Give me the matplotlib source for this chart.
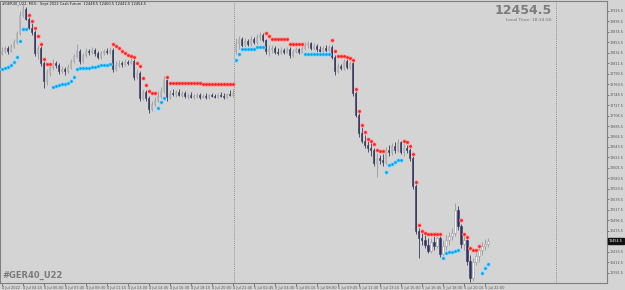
import matplotlib
matplotlib.use("Agg")
import matplotlib.pyplot as plt

# GER40 M15 bars, 4-5 Jul 2022
opens = [12832.5, 12836.5, 12842.5, 12836.5, 12846.5, 12854.5, 12872.5, 12908.5, 12920.5, 12900.5,
         12882.5, 12874.5, 12832.5, 12842.5, 12812.5, 12776.5, 12792.5, 12804.5, 12812.5, 12808.5,
         12796.5, 12800.5, 12796.5, 12804.5, 12816.5, 12826.5, 12836.5, 12816.5, 12828.5, 12836.5,
         12834.5, 12838.5, 12832.5, 12824.5, 12832.5, 12836.5, 12834.5, 12838.5, 12800.5, 12808.5,
         12812.5, 12810.5, 12814.5, 12812.5, 12816.5, 12784.5, 12792.5, 12742.5, 12754.5, 12742.5,
         12720.5, 12730.5, 12738.5, 12746.5, 12756.5, 12778.5, 12744.5, 12752.5, 12750.5, 12754.5,
         12748.5, 12752.5, 12746.5, 12748.5, 12744.5, 12746.5, 12748.5, 12744.5, 12746.5, 12744.5,
         12748.5, 12746.5, 12744.5, 12748.5, 12746.5, 12744.5, 12750.5, 12748.5,
         12836.5, 12852.5, 12860.5, 12848.5, 12856.5, 12850.5, 12860.5, 12854.5, 12864.5, 12868.5,
         12858.5, 12836.5, 12840.5, 12842.5, 12834.5, 12832.5, 12838.5, 12834.5, 12840.5, 12828.5,
         12836.5, 12840.5, 12834.5, 12842.5, 12848.5, 12852.5, 12842.5, 12846.5, 12840.5, 12836.5,
         12842.5, 12838.5, 12844.5, 12824.5, 12796.5, 12806.5, 12802.5, 12816.5, 12804.5, 12812.5,
         12752.5, 12708.5, 12672.5, 12656.5, 12646.5, 12640.5, 12636.5, 12610.5, 12620.5, 12616.5,
         12612.5, 12636.5, 12632.5, 12644.5, 12636.5, 12652.5, 12632.5, 12640.5, 12636.5, 12620.5,
         12564.5, 12474.5, 12460.5, 12456.5, 12446.5, 12434.5, 12452.5, 12444.5, 12460.5, 12428.5,
         12444.5, 12456.5, 12464.5, 12470.5, 12516.5, 12484.5, 12448.5, 12456.5, 12414.5, 12380.5,
         12412.5, 12424.5, 12436.5, 12444.5, 12448.5]
highs = [12844.5, 12846.5, 12846.5, 12850.5, 12860.5, 12876.5, 12916.5, 12930.5, 12924.5, 12904.5,
         12892.5, 12878.5, 12848.5, 12846.5, 12816.5, 12800.5, 12808.5, 12820.5, 12816.5, 12812.5,
         12806.5, 12804.5, 12810.5, 12820.5, 12830.5, 12850.5, 12840.5, 12832.5, 12842.5, 12840.5,
         12844.5, 12842.5, 12836.5, 12836.5, 12840.5, 12842.5, 12844.5, 12842.5, 12816.5, 12818.5,
         12816.5, 12820.5, 12818.5, 12822.5, 12820.5, 12800.5, 12796.5, 12760.5, 12758.5, 12746.5,
         12736.5, 12744.5, 12756.5, 12764.5, 12786.5, 12780.5, 12758.5, 12760.5, 12758.5, 12760.5,
         12756.5, 12756.5, 12752.5, 12754.5, 12750.5, 12752.5, 12752.5, 12750.5, 12752.5, 12750.5,
         12752.5, 12750.5, 12752.5, 12754.5, 12752.5, 12752.5, 12758.5, 12760.5,
         12862.5, 12866.5, 12864.5, 12862.5, 12860.5, 12866.5, 12864.5, 12870.5, 12874.5, 12872.5,
         12860.5, 12848.5, 12848.5, 12846.5, 12842.5, 12844.5, 12842.5, 12844.5, 12844.5, 12840.5,
         12844.5, 12842.5, 12846.5, 12854.5, 12856.5, 12854.5, 12852.5, 12850.5, 12846.5, 12846.5,
         12848.5, 12848.5, 12848.5, 12828.5, 12812.5, 12810.5, 12820.5, 12820.5, 12816.5, 12816.5,
         12756.5, 12712.5, 12684.5, 12668.5, 12656.5, 12654.5, 12640.5, 12630.5, 12626.5, 12628.5,
         12642.5, 12646.5, 12650.5, 12654.5, 12660.5, 12656.5, 12650.5, 12646.5, 12640.5, 12624.5,
         12568.5, 12480.5, 12470.5, 12466.5, 12460.5, 12460.5, 12464.5, 12464.5, 12464.5, 12456.5,
         12466.5, 12472.5, 12480.5, 12530.5, 12524.5, 12488.5, 12464.5, 12460.5, 12426.5, 12420.5,
         12432.5, 12442.5, 12452.5, 12458.5, 12460.5]
lows = [12828.5, 12832.5, 12830.5, 12834.5, 12842.5, 12850.5, 12868.5, 12904.5, 12898.5, 12880.5,
        12868.5, 12826.5, 12820.5, 12806.5, 12762.5, 12768.5, 12786.5, 12798.5, 12802.5, 12790.5,
        12792.5, 12788.5, 12792.5, 12800.5, 12812.5, 12822.5, 12810.5, 12812.5, 12824.5, 12828.5,
        12830.5, 12826.5, 12820.5, 12820.5, 12828.5, 12830.5, 12830.5, 12794.5, 12796.5, 12804.5,
        12804.5, 12806.5, 12808.5, 12810.5, 12778.5, 12780.5, 12736.5, 12738.5, 12736.5, 12712.5,
        12716.5, 12726.5, 12734.5, 12742.5, 12752.5, 12736.5, 12740.5, 12746.5, 12744.5, 12746.5,
        12744.5, 12742.5, 12740.5, 12742.5, 12740.5, 12742.5, 12740.5, 12742.5, 12740.5, 12740.5,
        12744.5, 12742.5, 12742.5, 12744.5, 12740.5, 12742.5, 12746.5, 12744.5,
        12830.5, 12840.5, 12844.5, 12844.5, 12846.5, 12846.5, 12850.5, 12850.5, 12858.5, 12854.5,
        12830.5, 12826.5, 12832.5, 12830.5, 12828.5, 12830.5, 12830.5, 12832.5, 12822.5, 12824.5,
        12832.5, 12830.5, 12832.5, 12838.5, 12842.5, 12838.5, 12838.5, 12834.5, 12832.5, 12832.5,
        12834.5, 12836.5, 12820.5, 12788.5, 12792.5, 12798.5, 12798.5, 12800.5, 12800.5, 12746.5,
        12704.5, 12664.5, 12650.5, 12640.5, 12632.5, 12624.5, 12604.5, 12582.5, 12608.5, 12604.5,
        12608.5, 12624.5, 12626.5, 12630.5, 12632.5, 12628.5, 12624.5, 12630.5, 12614.5, 12558.5,
        12468.5, 12420.5, 12446.5, 12440.5, 12430.5, 12430.5, 12436.5, 12440.5, 12422.5, 12424.5,
        12436.5, 12446.5, 12456.5, 12464.5, 12476.5, 12440.5, 12436.5, 12406.5, 12372.5, 12374.5,
        12406.5, 12412.5, 12426.5, 12436.5, 12442.5]
closes = [12836.5, 12842.5, 12836.5, 12846.5, 12854.5, 12872.5, 12908.5, 12920.5, 12900.5, 12882.5,
          12874.5, 12832.5, 12842.5, 12812.5, 12776.5, 12792.5, 12804.5, 12812.5, 12808.5, 12796.5,
          12800.5, 12796.5, 12804.5, 12816.5, 12826.5, 12836.5, 12816.5, 12828.5, 12836.5, 12834.5,
          12838.5, 12832.5, 12824.5, 12832.5, 12836.5, 12834.5, 12838.5, 12800.5, 12808.5, 12812.5,
          12810.5, 12814.5, 12812.5, 12816.5, 12784.5, 12792.5, 12742.5, 12754.5, 12742.5, 12720.5,
          12730.5, 12738.5, 12746.5, 12756.5, 12778.5, 12744.5, 12752.5, 12750.5, 12754.5, 12748.5,
          12752.5, 12746.5, 12748.5, 12744.5, 12746.5, 12748.5, 12744.5, 12746.5, 12744.5, 12748.5,
          12746.5, 12744.5, 12748.5, 12746.5, 12744.5, 12750.5, 12748.5, 12752.5,
          12852.5, 12860.5, 12848.5, 12856.5, 12850.5, 12860.5, 12854.5, 12864.5, 12868.5, 12858.5,
          12836.5, 12840.5, 12842.5, 12834.5, 12832.5, 12838.5, 12834.5, 12840.5, 12828.5, 12836.5,
          12840.5, 12834.5, 12842.5, 12848.5, 12852.5, 12842.5, 12846.5, 12840.5, 12836.5, 12842.5,
          12838.5, 12844.5, 12824.5, 12796.5, 12806.5, 12802.5, 12816.5, 12804.5, 12812.5, 12752.5,
          12708.5, 12672.5, 12656.5, 12646.5, 12640.5, 12636.5, 12610.5, 12620.5, 12616.5, 12612.5,
          12636.5, 12632.5, 12644.5, 12636.5, 12652.5, 12632.5, 12640.5, 12636.5, 12620.5, 12564.5,
          12474.5, 12460.5, 12456.5, 12446.5, 12434.5, 12452.5, 12444.5, 12460.5, 12428.5, 12444.5,
          12456.5, 12464.5, 12470.5, 12516.5, 12484.5, 12448.5, 12456.5, 12414.5, 12380.5, 12412.5,
          12424.5, 12436.5, 12444.5, 12448.5, 12454.5]
# parabolic SAR dots
sar = [12800.5, 12802.5, 12804.5, 12808.5, 12814.5, 12824.5, 12856.5, 12880.5, 12880.5, 12908.5,
       12896.5, 12882.5, 12866.5, 12850.5, 12820.5, 12810.5, 12810.5, 12764.5, 12766.5, 12768.5,
       12770.5, 12770.5, 12772.5, 12776.5, 12784.5, 12800.5, 12802.5, 12802.5, 12802.5, 12802.5,
       12804.5, 12804.5, 12806.5, 12808.5, 12808.5, 12808.5, 12810.5, 12850.5, 12846.5, 12842.5,
       12836.5, 12832.5, 12828.5, 12826.5, 12824.5, 12812.5, 12806.5, 12782.5, 12768.5, 12756.5,
       12752.5, 12752.5, 12722.5, 12734.5, 12742.5, 12784.5, 12772.5, 12772.5, 12772.5, 12772.5,
       12772.5, 12772.5, 12772.5, 12772.5, 12772.5, 12772.5, 12772.5, 12770.5, 12770.5, 12770.5,
       12770.5, 12770.5, 12770.5, 12770.5, 12770.5, 12770.5, 12770.5, 12770.5,
       12818.5, 12830.5, 12840.5, 12840.5, 12840.5, 12840.5, 12840.5, 12844.5, 12844.5, 12844.5,
       12872.5, 12866.5, 12860.5, 12860.5, 12860.5, 12860.5, 12860.5, 12860.5, 12850.5, 12850.5,
       12850.5, 12850.5, 12850.5, 12830.5, 12830.5, 12830.5, 12830.5, 12830.5, 12830.5, 12830.5,
       12830.5, 12830.5, 12858.5, 12836.5, 12826.5, 12826.5, 12826.5, 12824.5, 12822.5, 12818.5,
       12760.5, 12716.5, 12688.5, 12674.5, 12660.5, 12656.5, 12648.5, 12636.5, 12634.5, 12634.5,
       12592.5, 12606.5, 12608.5, 12612.5, 12616.5, 12616.5, 12656.5, 12652.5, 12644.5, 12628.5,
       12572.5, 12486.5, 12474.5, 12470.5, 12468.5, 12468.5, 12468.5, 12468.5, 12468.5, 12420.5,
       12430.5, 12432.5, 12432.5, 12434.5, 12436.5, 12496.5, 12468.5, 12462.5, 12440.5, 12436.5,
       12436.5, 12444.5, 12390.5, 12400.5, 12408.5]

price_ticks = [12391.5, 12412.5, 12433.5, 12475.5, 12496.5, 12517.5, 12538.5, 12559.5, 12580.5,
               12601.5, 12622.5, 12643.5, 12664.5, 12685.5, 12706.5, 12727.5, 12748.5, 12769.5,
               12790.5, 12811.5, 12832.5, 12853.5, 12874.5, 12895.5, 12916.5]
time_labels = ["4 Jul 2022", "4 Jul 04:15", "4 Jul 06:00", "4 Jul 07:45", "4 Jul 09:30",
               "4 Jul 11:15", "4 Jul 13:00", "4 Jul 14:45", "4 Jul 16:30", "4 Jul 18:15",
               "4 Jul 20:00", "4 Jul 21:45", "5 Jul 02:45", "5 Jul 04:30", "5 Jul 06:15",
               "5 Jul 08:00", "5 Jul 09:45", "5 Jul 11:30", "5 Jul 13:15", "5 Jul 15:00",
               "5 Jul 16:45", "5 Jul 18:30", "5 Jul 20:15", "5 Jul 22:00"]
label_every = 7
day_break = 77.5
last_price = 12454.5

bg = "#d4d4d4"
bull_body = "#f4f4f4"
bull_line = "#9a9a9a"
bear_body = "#2c2c6c"
bear_line = "#3a3a5a"

fig = plt.figure(figsize=(6.25, 2.9), dpi=100, facecolor=bg)
ax = fig.add_axes([0.0, 7 / 290, 607 / 625, 282 / 290])
ax.set_facecolor(bg)

n = len(closes)
xs = list(range(n))
for i in xs:
    up = closes[i] >= opens[i]
    lc = bull_line if up else bear_line
    ax.vlines(i, lows[i], highs[i], color=lc, lw=0.6, zorder=2)
    lo, hi = min(opens[i], closes[i]), max(opens[i], closes[i])
    h = max(hi - lo, 0.8)
    ax.bar(i, h, bottom=lo, width=0.62, color=bull_body if up else bear_body,
           edgecolor=lc, linewidth=0.4, zorder=3)

red_x = [i for i in xs if sar[i] > closes[i]]
blue_x = [i for i in xs if sar[i] <= closes[i]]
ax.plot(red_x, [sar[i] for i in red_x], "o", ms=3.2, color="#ff9a9a", mec="none", zorder=4)
ax.plot(red_x, [sar[i] for i in red_x], "o", ms=2.0, color="#ff2020", mec="none", zorder=5)
ax.plot(blue_x, [sar[i] for i in blue_x], "o", ms=3.2, color="#8fd8ff", mec="none", zorder=4)
ax.plot(blue_x, [sar[i] for i in blue_x], "o", ms=2.0, color="#00a8f0", mec="none", zorder=5)

ax.set_xlim(-0.5, 201.8)
ax.set_ylim(12370.5, 12936.5)

ax.axvline(day_break, color="#7a7a7a", lw=0.6, ls=(0, (1, 1.5)), zorder=1)
ax.axvline(184.8, color="#7a7a7a", lw=0.6, ls=(0, (1, 1.5)), zorder=1)

for s in ax.spines.values():
    s.set_color("#808080")
    s.set_linewidth(0.8)

ax.yaxis.tick_right()
ax.set_yticks(price_ticks)
ax.set_yticklabels([f"{p:.1f}" for p in price_ticks])
ax.tick_params(axis="y", length=1.5, width=0.5, colors="#555555", labelsize=2.4, pad=0.6)
ax.set_xticks(list(range(0, n, label_every)))
ax.set_xticklabels(time_labels, ha="left")
ax.tick_params(axis="x", length=2, width=0.5, colors="#555555", labelsize=2.6, pad=0.5)

ax.text(1.003, last_price, f"{last_price:.1f}", transform=ax.get_yaxis_transform(),
        ha="left", va="center", fontsize=2.4, color="white",
        bbox=dict(boxstyle="square,pad=0.3", fc="#111111", ec="#111111"))

ax.text(0.003, 0.995, "#GER40_U22, M15:  Sept 2022 Cash Future  12448.5 12460.5 12442.5 12454.5",
        transform=ax.transAxes, ha="left", va="top", fontsize=2.6, color="#222222")
ax.text(0.909, 0.99, "12454.5", transform=ax.transAxes, ha="right", va="top",
        fontsize=9, fontweight="bold", color="#7c7c7c")
ax.text(0.909, 0.94, "Local Time: 18:34:56", transform=ax.transAxes, ha="right", va="top",
        fontsize=3.2, color="#707070")
ax.text(0.004, 0.01, "#GER40_U22", transform=ax.transAxes, ha="left", va="bottom",
        fontsize=6, fontweight="bold", color="#7a7a7a")

fig.savefig("out.png", dpi=100, facecolor=bg)
